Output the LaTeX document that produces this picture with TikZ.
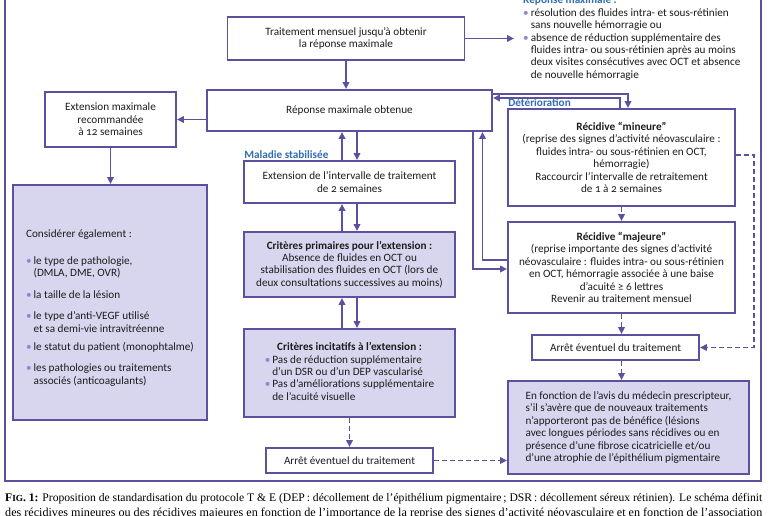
\documentclass[tikz,border=0pt]{standalone}
\usepackage{fontspec}
\usepackage{graphicx}
\setmainfont{Carlito}[Numbers=OldStyle]
\newfontfamily\legende{Liberation Serif}
\usetikzlibrary{arrows.meta,positioning}

\newcommand{\puce}{{\color{puceCouleur}\textbullet}}

\begin{document}
\begin{tikzpicture}[x=1pt,y=-1pt,text=texte,
  font=\fontsize{11.2}{12.4}\selectfont,
  boite/.style={draw=trait,line width=1.9pt,fill=white,align=center,inner sep=2pt},
  boitepleine/.style={boite,fill=lavande},
  fleche/.style={draw=trait,line width=1.9pt,-{Triangle[length=7pt,width=6.5pt]}},
  flechetiret/.style={fleche,dash pattern=on 5pt off 3pt},
  etiquette/.style={text=bleuTitre,font=\fontsize{11.2}{12.4}\selectfont\bfseries,inner sep=1pt}]
\definecolor{trait}{HTML}{5B519F}
\definecolor{lavande}{HTML}{D8D6EE}
\definecolor{puceCouleur}{HTML}{8A8BCF}
\definecolor{bleuTitre}{HTML}{2F6DB3}
\definecolor{texte}{HTML}{1C1C1C}
\useasboundingbox (0,0) rectangle (770,516);
\fill[white] (0,0) rectangle (770,516);
% cadre
\draw[trait,line width=1.9pt] (5,-20) rectangle (761,481);

% colonne centrale
\node[boite,minimum width=237pt,minimum height=43pt] (mensuel) at (346,38.5) {Traitement mensuel jusqu’à obtenir\\la réponse maximale};
\node[boite,minimum width=285pt,minimum height=41pt] (reponse) at (349.5,110.5) {Réponse maximale obtenue};
\node[boite,minimum width=211pt,minimum height=42pt] (extint) at (349.5,182) {Extension de l’intervalle de traitement\\de 2 semaines};
\node[boitepleine,minimum width=211pt,minimum height=65pt] (primaires) at (349.5,264.5) {\textbf{Critères primaires pour l’extension :}\\Absence de fluides en OCT ou\\stabilisation des fluides en OCT (lors de\\deux consultations successives au moins)};
\node[boitepleine,minimum width=211pt,minimum height=88pt] (incitatifs) at (349.5,373) {%
  \begin{tabular}{@{}l@{\hspace{2pt}}l@{}}
  \multicolumn{2}{c}{\textbf{Critères incitatifs à l’extension :}}\\
  \puce & Pas de réduction supplémentaire\\
        & d’un DSR ou d’un DEP vascularisé\\
  \puce & Pas d’améliorations supplémentaire\\
        & de l’acuité visuelle
  \end{tabular}};
\node[boite,minimum width=167pt,minimum height=25pt] (arretA) at (349.5,460.5) {Arrêt éventuel du traitement};

% colonne gauche
\node[boite,minimum width=131pt,minimum height=55pt] (extmax) at (110.5,119.5) {Extension maximale\\recommandée\\à 12 semaines};
\node[boitepleine,minimum width=194pt,minimum height=235pt] (considerer) at (110,302.5) {%
  \begin{tabular}{@{}l@{\hspace{2pt}}l@{}}
  \multicolumn{2}{@{}l}{\rule{0pt}{20pt}Considérer également :}\\[15pt]
  \puce & le type de pathologie,\\
        & (DMLA, DME, OVR)\\[9pt]
  \puce & la taille de la lésion\\[9pt]
  \puce & le type d’anti-VEGF utilisé\\
        & et sa demi-vie intravitréenne\\[6pt]
  \puce & le statut du patient (monophtalme)\\[9pt]
  \puce & les pathologies ou traitements\\
        & associés (anticoagulants)
  \end{tabular}};

% colonne droite
\node[anchor=base west,inner sep=0pt] (critrep) at (523,4) {%
  \begin{tabular}[t]{@{}l@{\hspace{2pt}}l@{}}
  \multicolumn{2}{@{}l}{\color{bleuTitre}\bfseries Réponse maximale :}\\
  \puce & résolution des fluides intra- et sous-rétinien\\
        & sans nouvelle hémorragie ou\\
  \puce & absence de réduction supplémentaire des\\
        & fluides intra- ou sous-rétinien après au moins\\
        & deux visites consécutives avec OCT et absence\\
        & de nouvelle hémorragie
  \end{tabular}};
\node[boite,minimum width=227pt,minimum height=97pt] (mineure) at (621.5,157.5) {\textbf{Récidive “mineure”}\\(reprise des signes d’activité néovasculaire :\\fluides intra- ou sous-rétinien en OCT,\\hémorragie)\\Raccourcir l’intervalle de retraitement\\de 1 à 2 semaines};
\node[boite,minimum width=227pt,minimum height=91pt] (majeure) at (621.5,267.5) {\textbf{Récidive “majeure”}\\(reprise importante des signes d’activité\\néovasculaire : fluides intra- ou sous-rétinien\\en OCT, hémorragie associée à une baise\\d’acuité ≥ 6 lettres\\Revenir au traitement mensuel};
\node[boite,minimum width=167pt,minimum height=25pt] (arretB) at (615.5,347.5) {Arrêt éventuel du traitement};
\node[boitepleine,minimum width=241pt,minimum height=93pt,align=left] (fonction) at (628.5,427.5) {En fonction de l’avis du médecin prescripteur,\\s’il s’avère que de nouveaux traitements\\n’apporteront pas de bénéfice (lésions\\avec longues périodes sans récidives ou en\\présence d’une fibrose cicatricielle et/ou\\d’une atrophie de l’épithélium pigmentaire};

% etiquettes
\node[etiquette,anchor=south west] (stabilisee) at (extint.north west) {Maladie stabilisée};
\node[etiquette,anchor=south west] (deterioration) at (mineure.north west) {Détérioration};

% fleches
\draw[fleche] (mensuel.south) -- (mensuel.south |- reponse.north);
\draw[fleche,shorten >=9pt] (mensuel.east) -- (critrep.west |- mensuel.east);
\draw[fleche] (reponse.west |- extmax.east) -- (extmax.east);
\draw[fleche] (extmax.south) -- (extmax.south |- considerer.north);
\foreach \haut/\bas in {reponse/extint,extint/primaires,primaires/incitatifs} {
  \draw[fleche] ([xshift=-7.5pt]\bas.north) -- ([xshift=-7.5pt]\haut.south);
  \draw[fleche] ([xshift=7.5pt]\haut.south) -- ([xshift=7.5pt]\bas.north);
}
\draw[flechetiret] (incitatifs.south) -- (arretA.north);
\draw[flechetiret] (arretA.east) -- (arretA.east -| fonction.west);
\draw[fleche] ([yshift=16.5pt]reponse.east) -| ([xshift=6.5pt]mineure.north);
\draw[fleche] ([xshift=-1.5pt]mineure.north) |- ([yshift=12.5pt]reponse.east);
\draw[fleche] ([yshift=7.5pt]majeure.west) -| ([xshift=133pt]reponse.south);
\draw[fleche] ([xshift=123.5pt]reponse.south) |- ([yshift=-1.5pt]majeure.west);
\draw[flechetiret] (mineure.south) -- (majeure.north);
\draw[flechetiret] (mineure.south |- majeure.south) -- (mineure.south |- arretB.north);
\draw[flechetiret] (mineure.south |- arretB.south) -- (mineure.south |- fonction.north);
\draw[flechetiret] ([yshift=2.5pt]mineure.east) -- ++(18,0) |- (arretB.east);

% legende
\node[anchor=base west,inner sep=0pt,text=black] (legende1) at (5,501) {\resizebox{757pt}{!}{\legende\fontsize{10}{12}\selectfont{\bfseries F{\footnotesize IG}. 1:} Proposition de standardisation du protocole T \& E (DEP\,: décollement de l’épithélium pigmentaire\,; DSR\,: décollement séreux rétinien). Le schéma définit}};
\node[anchor=base west,inner sep=0pt,text=black] (legende2) at (5,516.5) {\resizebox{757pt}{!}{\legende\fontsize{10}{12}\selectfont des récidives mineures ou des récidives majeures en fonction de l’importance de la reprise des signes d’activité néovasculaire et en fonction de l’association}};
\end{tikzpicture}
\end{document}
